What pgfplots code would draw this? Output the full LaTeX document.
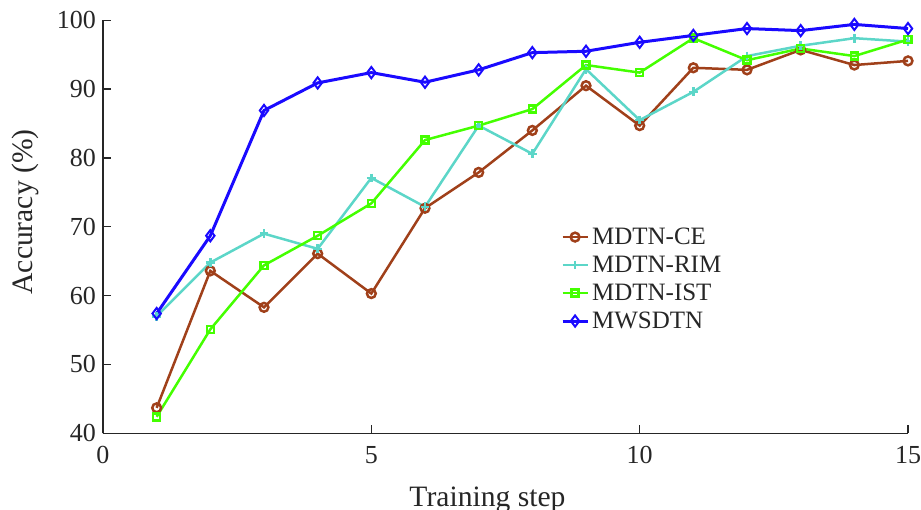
\documentclass[border=0pt]{standalone}
\usepackage{fontspec}
\setmainfont{Liberation Serif}
\usepackage{pgfplots}
\pgfplotsset{compat=1.18}
\definecolor{cbrown}{HTML}{A0401A}
\definecolor{cturq}{HTML}{5CD6C8}
\definecolor{cgreen}{HTML}{44FF00}
\definecolor{cblue}{HTML}{1A0AFF}
\definecolor{txt}{HTML}{262626}
\begin{document}
\begin{tikzpicture}
\begin{axis}[
  scale only axis,
  width=402.5pt, height=206.5pt,
  xmin=0, xmax=15, ymin=40, ymax=100,
  xtick={0,5,10,15}, ytick={40,50,60,70,80,90,100},
  axis x line*=bottom, axis y line*=left,
  axis line style={txt, line width=0.7pt},
  tick style={txt, line width=0.7pt},
  tick align=inside, major tick length=4pt,
  /pgf/number format/assume math mode=true,
  ticklabel style={font=\fontsize{13}{15}\selectfont, text=txt},
  xticklabel style={yshift=-3pt},
  xlabel={Training step}, ylabel={Accuracy (\%)},
  label style={font=\fontsize{14.8}{17}\selectfont, text=txt},
  xlabel style={at={(rel axis cs:0.4776,-0.1768)}, anchor=base},
  ylabel style={at={(rel axis cs:-0.0873,0.536)}, anchor=base},
  legend cell align=left,
  legend style={at={(rel axis cs:0.569,0.509)}, anchor=north west, draw=none, fill=none,
    inner sep=0pt, outer sep=0pt, row sep=0pt,
    nodes={text height=9pt, text depth=2pt, inner sep=1.5pt, font=\fontsize{12.5}{14}\selectfont, text=txt}},
  legend image code/.code={\draw[mark repeat=2,mark phase=2] plot coordinates {(0cm,0cm) (0.22cm,0cm) (0.44cm,0cm)};},
  clip=false,
]
\addplot[cbrown, line width=1.25pt, mark=o, mark size=2.2pt] coordinates {
(1,43.7) (2,63.6) (3,58.3) (4,66.1) (5,60.3) (6,72.7) (7,77.9) (8,84.0)
(9,90.5) (10,84.7) (11,93.1) (12,92.8) (13,95.7) (14,93.5) (15,94.1)};
\addlegendentry{MDTN-CE}
\addplot[cturq, line width=1.25pt, mark=+, mark size=2.2pt] coordinates {
(1,57.0) (2,64.8) (3,69.0) (4,66.8) (5,77.1) (6,72.9) (7,84.7) (8,80.6)
(9,92.9) (10,85.5) (11,89.6) (12,94.8) (13,96.3) (14,97.4) (15,96.9)};
\addlegendentry{MDTN-RIM}
\addplot[cgreen, line width=1.25pt, mark=square, mark size=1.75pt] coordinates {
(1,42.4) (2,55.1) (3,64.4) (4,68.7) (5,73.4) (6,82.6) (7,84.7) (8,87.1)
(9,93.5) (10,92.4) (11,97.4) (12,94.2) (13,95.9) (14,94.8) (15,97.2)};
\addlegendentry{MDTN-IST}
\addplot[cblue, line width=1.5pt, mark=diamond, mark size=2.8pt, mark options={fill=white, line width=1pt}] coordinates {
(1,57.4) (2,68.7) (3,86.9) (4,90.9) (5,92.4) (6,91.0) (7,92.8) (8,95.3)
(9,95.5) (10,96.8) (11,97.8) (12,98.8) (13,98.5) (14,99.4) (15,98.8)};
\addlegendentry{MWSDTN}
\coordinate (bbl) at (rel axis cs:-0.12795,-0.18571);
\coordinate (btr) at (rel axis cs:1.01615,1.04915);
\end{axis}
\pgfresetboundingbox
\useasboundingbox (bbl) rectangle (btr);
\end{tikzpicture}
\end{document}
